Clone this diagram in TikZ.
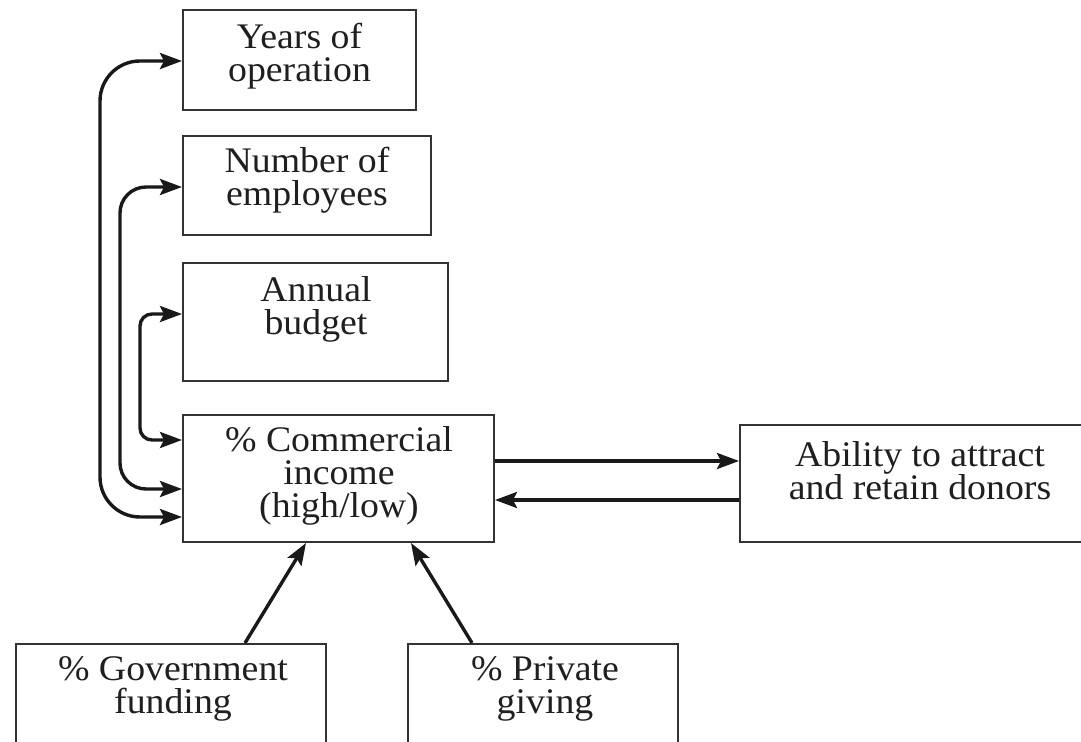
\documentclass[tikz,border=0pt]{standalone}
\usepackage{fontspec}
\setmainfont{Liberation Serif}[FakeStretch=1.05]
\usetikzlibrary{arrows.meta,calc}
\begin{document}
\begin{tikzpicture}[x=0.5pt,y=-0.5pt,
  sz/.style 2 args={minimum width=#1*0.5pt, minimum height=#2*0.5pt},
  box/.style={draw=black!80, line width=1pt, rectangle, inner sep=0pt},
  txt/.style={align=center, inner sep=0pt, text=black!88,
              font=\fontsize{18}{16.5}\selectfont},
  tip/.tip={Stealth[length=11pt,width=8pt,inset=2pt]},
  link/.style={line width=1.7pt, draw=black!90, -tip},
  twoway/.style={line width=1.7pt, draw=black!90, tip-tip}
]
\useasboundingbox (0,0) rectangle (1081,742);
\clip (0,0) rectangle (1081,742);

% boxes
\node[box, sz={233}{100}] (years)   at (299.5,60)  {};
\node[box, sz={248}{99}]  (number)  at (307,185.5) {};
\node[box, sz={265}{118}] (budget)  at (315.5,322) {};
\node[box, sz={311}{127}] (comm)    at (338.5,478.5) {};
\node[box, sz={355}{117}] (ability) at (917.5,483.5) {};
\node[box, sz={310}{116}] (gov)     at (171,702)   {};
\node[box, sz={270}{116}] (private) at (543,702)   {};

% box texts
\node[txt] (yearsT)   at (299.5,56) {Years of\\operation};
\node[txt] (numberT)  at (307,180)  {Number of\\employees};
\node[txt] (budgetT)  at (316,309)  {Annual\\budget};
\node[txt] (commT)    at (339,476)  {\% Commercial\\income\\(high/low)};
\node[txt] (abilityT) at (920,471)  {Ability to attract\\and retain donors};
\node[txt] (govT)     at (173,689)  {\% Government\\funding};
\node[txt] (privateT) at (545,689)  {\% Private\\giving};

% feedback loops on the left
\draw[twoway, rounded corners=20pt]
  ($(years.west)+(0,1)$) -| ($(comm.west)+(-82,38.5)$) -- ($(comm.west)+(0,38.5)$);
\draw[twoway, rounded corners=13pt]
  ($(number.west)+(0,1.5)$) -| ($(comm.west)+(-62,10.5)$) -- ($(comm.west)+(0,10.5)$);
\draw[twoway, rounded corners=6pt]
  ($(budget.west)+(0,-8)$) -| ($(comm.west)+(-42,-38.5)$) -- ($(comm.west)+(0,-38.5)$);

% links with donors
\draw[link] ($(comm.east)+(0,-17.5)$) coordinate (c1) -- (c1 -| ability.west);
\draw[link] ($(ability.west)+(0,16.5)$) coordinate (a1) -- (a1 -| comm.east);

% funding sources
\draw[link] ($(gov.north)+(74,0)$) -- ($(comm.south)+(-32.5,0)$);
\draw[link] ($(private.north)+(-71,0)$) -- ($(comm.south)+(72.5,0)$);
\end{tikzpicture}
\end{document}
